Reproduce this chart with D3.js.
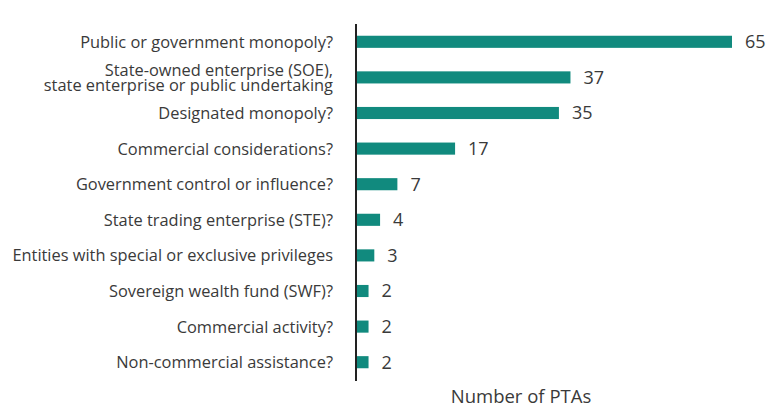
<!DOCTYPE html>
<html>
<head>
<meta charset="utf-8">
<script src="https://cdn.jsdelivr.net/npm/d3@7"></script>
<style>
  body { margin: 0; background: #fff; }
  text { font-family: "Open Sans", sans-serif; fill: #3a3a3a; }
</style>
</head>
<body>
<svg id="chart" width="769" height="411"></svg>
<script>
// categories, top to bottom
var categories = [
    ["Public or government monopoly?"],
    ["State-owned enterprise (SOE),", "state enterprise or public undertaking"],
    ["Designated monopoly?"],
    ["Commercial considerations?"],
    ["Government control or influence?"],
    ["State trading enterprise (STE)?"],
    ["Entities with special or exclusive privileges"],
    ["Sovereign wealth fund (SWF)?"],
    ["Commercial activity?"],
    ["Non-commercial assistance?"]
];
var counts = [65, 37, 35, 17, 7, 4, 3, 2, 2, 2];
var axisTitle = "Number of PTAs";

var svg = d3.select("#chart");
var x0 = 356, yTop = 24, yBottom = 380;

var x = d3.scaleLinear()
    .domain([0, 65])
    .range([x0 + 1, 732]);

var y = d3.scaleBand()
    .domain(d3.range(counts.length))
    .range([yTop, yBottom])
    .paddingInner(0.66)
    .paddingOuter(0.33);

// bars
svg.selectAll("rect.bar")
    .data(counts)
    .enter().append("rect")
    .attr("class", "bar")
    .attr("x", x(0))
    .attr("y", function(d, i) { return y(i); })
    .attr("width", function(d) { return x(d) - x(0); })
    .attr("height", y.bandwidth())
    .attr("fill", "#118a7e");

// value labels
svg.selectAll("text.val")
    .data(counts)
    .enter().append("text")
    .attr("class", "val")
    .attr("x", function(d) { return x(d) + 13; })
    .attr("y", function(d, i) { return y(i) + y.bandwidth() / 2; })
    .attr("dy", "0.36em")
    .style("font-size", "18px")
    .text(function(d) { return d; });

// category labels
var labels = svg.selectAll("text.cat")
    .data(categories)
    .enter().append("text")
    .attr("class", "cat")
    .attr("text-anchor", "end")
    .attr("x", 333)
    .attr("y", function(d, i) { return y(i) + y.bandwidth() / 2; })
    .style("font-size", "16.4px");

labels.each(function(d) {
    var t = d3.select(this);
    var n = d.length;
    d.forEach(function(line, k) {
        t.append("tspan")
            .attr("x", 333)
            .attr("dy", k === 0 ? (0.36 - (n - 1) * 0.44) + "em" : "0.88em")
            .text(line);
    });
});

// vertical axis line
svg.append("line")
    .attr("x1", x0).attr("x2", x0)
    .attr("y1", yTop).attr("y2", yBottom + 1)
    .attr("stroke", "#222")
    .attr("stroke-width", 2);

// axis title
svg.append("text")
    .attr("x", 521)
    .attr("y", 403)
    .attr("text-anchor", "middle")
    .style("font-size", "18.5px")
    .text(axisTitle);
</script>
</body>
</html>
